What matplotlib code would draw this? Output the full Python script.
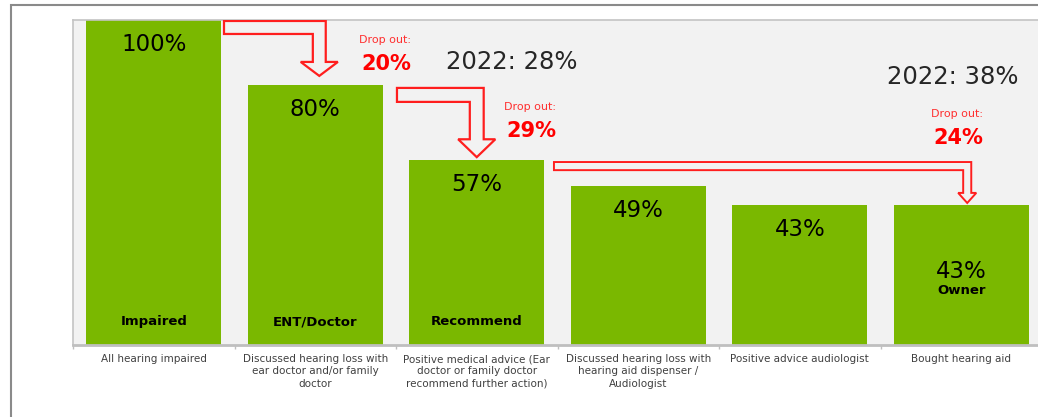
import matplotlib
matplotlib.use('Agg')
import matplotlib.pyplot as plt
from matplotlib.patches import Polygon, Rectangle

# Funnel data
categories = [
    'All hearing impaired',
    'Discussed hearing loss with\near doctor and/or family\ndoctor',
    'Positive medical advice (Ear\ndoctor or family doctor\nrecommend further action)',
    'Discussed hearing loss with\nhearing aid dispenser /\nAudiologist',
    'Positive advice audiologist',
    'Bought hearing aid',
]
values = [100, 80, 57, 49, 43, 43]
stage_labels = ['Impaired', 'ENT/Doctor', 'Recommend', '', '', 'Owner']

# drop out between stages (from bar, to bar, %)
drop_from = [0, 1, 2]
drop_to = [1, 2, 5]
drop_pct = [20, 29, 24]

# 2022 comparison notes
notes_2022 = ['2022: 28%', '2022: 38%']

GREEN = '#7AB800'
RED = '#FF1E1E'
BAR_W = 0.836

fig = plt.figure(figsize=(10.38, 4.17), dpi=100)
ax = fig.add_axes([73 / 1038, 72 / 417, 969 / 1038, 325 / 417])
ax.set_facecolor('#F2F2F2')

x = list(range(len(values)))
ax.bar(x, values, width=BAR_W, color=GREEN, zorder=2)
ax.set_xlim(-0.5, len(values) - 0.5)
ax.set_ylim(0, 100)

# value labels inside bars
for i, v in enumerate(values):
    if stage_labels[i] == 'Owner':
        ax.text(i, 22.5, f'{v}%', ha='center', va='center', fontsize=16.5, color='black', zorder=3)
        ax.text(i, 16.9, stage_labels[i], ha='center', va='center', fontsize=9.5,
                fontweight='bold', color='black', zorder=3)
    else:
        ax.text(i, v - 7.5, f'{v}%', ha='center', va='center', fontsize=16.5, color='black', zorder=3)
        if stage_labels[i]:
            ax.text(i, 7.1, stage_labels[i], ha='center', va='center', fontsize=9.5,
                    fontweight='bold', color='black', zorder=3)


def elbow_arrow(ax, x0, x_tip, y_top, y_tip, band, half_stem, half_head, head_h, lw):
    pts = [(x0, y_top), (x_tip + half_stem, y_top), (x_tip + half_stem, y_tip + head_h),
           (x_tip + half_head, y_tip + head_h), (x_tip, y_tip),
           (x_tip - half_head, y_tip + head_h), (x_tip - half_stem, y_tip + head_h),
           (x_tip - half_stem, y_top - band), (x0, y_top - band)]
    ax.add_patch(Polygon(pts, closed=True, facecolor='none', edgecolor=RED,
                         linewidth=lw, joinstyle='miter', zorder=4))


# arrow styling per drop
arrow_style = [
    dict(gap=0.017, top_off=0.3, tip_off=2.8, tip_dx=0.025, band=4.0, half_stem=0.04,
         half_head=0.115, head_h=4.3, lw=1.6),
    dict(gap=0.088, top_off=0.9, tip_off=0.8, tip_dx=0.0, band=4.3, half_stem=0.043,
         half_head=0.115, head_h=5.5, lw=1.6),
    dict(gap=0.06, top_off=0.7, tip_off=0.7, tip_dx=0.037, band=2.5, half_stem=0.025,
         half_head=0.056, head_h=3.1, lw=1.4),
]
for s, d, st in zip(drop_from, drop_to, arrow_style):
    elbow_arrow(ax, s + BAR_W / 2 + st['gap'], d + st['tip_dx'],
                values[s] - st['top_off'], values[d] + st['tip_off'],
                st['band'], st['half_stem'], st['half_head'], st['head_h'], st['lw'])

# drop out texts
drop_text_pos = [(1.43, 93.8, 86.5), (2.33, 73.2, 65.8), (4.975, 71.1, 63.7)]
for pct, (tx, ty1, ty2) in zip(drop_pct, drop_text_pos):
    ax.text(tx, ty1, 'Drop out:', ha='center', va='center', fontsize=8, color='#FF3030', zorder=5)
    ax.text(tx + 0.008, ty2, f'{pct}%', ha='center', va='center', fontsize=15,
            fontweight='bold', color='#FF0000', zorder=5)

note_pos = [(2.218, 87.1), (4.949, 82.5)]
for txt, (nx, ny) in zip(notes_2022, note_pos):
    ax.text(nx, ny, txt, ha='center', va='center', fontsize=17.5, color='#262626', zorder=5)

# axes styling
for side in ['left', 'top']:
    ax.spines[side].set_color('#C4C4C4')
    ax.spines[side].set_linewidth(1.2)
ax.spines['right'].set_visible(False)
ax.spines['bottom'].set_color('#BFBFBF')
ax.spines['bottom'].set_linewidth(2)
ax.set_yticks([])
ax.set_xticks(x)
ax.set_xticklabels(categories, fontsize=7.5, color='#404040', linespacing=1.3)
ax.tick_params(axis='x', which='major', length=0, pad=6.5)
ax.set_xticks([i - 0.5 for i in range(len(values) + 1)], minor=True)
ax.tick_params(axis='x', which='minor', length=3, color='#BFBFBF', width=1)

# outer frame
fig.add_artist(Rectangle((11 / 1038, -0.2), 1.5, 1.2 - 5 / 417, transform=fig.transFigure,
                         fill=False, edgecolor='#8A8A8A', linewidth=1.5))

fig.savefig('out.png', dpi=100)
